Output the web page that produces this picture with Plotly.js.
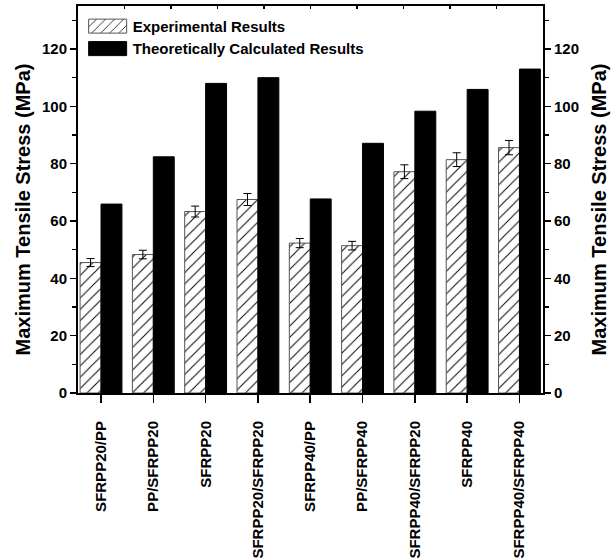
<!DOCTYPE html>
<html>
<head>
<meta charset="utf-8">
<script src="https://cdn.plot.ly/plotly-3.0.1.min.js"></script>
<style>html,body{margin:0;padding:0;background:#fff;}#chart{width:614px;height:560px;}</style>
</head>
<body>
<div id="chart"></div>
<script>
const categories = ["SFRPP20/PP", "PP/SFRPP20", "SFRPP20", "SFRPP20/SFRPP20", "SFRPP40/PP", "PP/SFRPP40", "SFRPP40/SFRPP20", "SFRPP40", "SFRPP40/SFRPP40"];
const experimental = [45.5, 48.3, 63.3, 67.5, 52.3, 51.4, 77.2, 81.4, 85.6];
const experimentalErr = [1.4, 1.5, 1.9, 2.1, 1.6, 1.5, 2.4, 2.4, 2.5];
const theoretical = [65.9, 82.4, 108.0, 110.0, 67.7, 87.1, 98.3, 105.9, 113.0];
const seriesNames = ["Experimental Results", "Theoretically Calculated Results"];
const yTitle = "Maximum Tensile Stress (MPa)";

const font = "Liberation Sans, Arial, sans-serif";

const traces = [
  {
    type: "bar", x: categories, y: experimental, name: seriesNames[0],
    marker: {color: "#ffffff", line: {color: "#555555", width: 1},
      pattern: {shape: "/", fgcolor: "#000000", bgcolor: "#ffffff", size: 8, solidity: 0.12}},
    error_y: {type: "data", array: experimentalErr, visible: true, color: "#000000", thickness: 1, width: 4}
  },
  {
    type: "bar", x: categories, y: theoretical, name: seriesNames[1],
    marker: {color: "#000000", line: {color: "#000000", width: 1}}
  },
  {
    // empty helper trace so the mirrored top/right axes are drawn
    type: "scatter", x: [], y: [], xaxis: "x2", yaxis: "y2",
    showlegend: false, hoverinfo: "skip"
  }
];

const yCommon = {
  range: [0, 135], dtick: 20, tick0: 0, showgrid: false, zeroline: false,
  showline: true, linecolor: "#000", linewidth: 2,
  ticks: "outside", ticklen: 6, tickwidth: 1.5, tickcolor: "#000",
  minor: {dtick: 10, ticks: "outside", ticklen: 4, tickwidth: 1.5, tickcolor: "#000"},
  tickfont: {family: font, size: 15, color: "#000", weight: "bold"},
  fixedrange: true
};

const layout = {
  width: 614, height: 560,
  margin: {l: 78, r: 71, t: 6, b: 167},
  paper_bgcolor: "#fff", plot_bgcolor: "#fff",
  barmode: "group", bargap: 0.2, bargroupgap: 0,
  showlegend: true,
  legend: {x: 0.01, y: 0.99, xanchor: "left", yanchor: "top", bgcolor: "rgba(0,0,0,0)",
    font: {family: font, size: 15, color: "#000", weight: "bold"}, itemwidth: 40},
  xaxis: {
    type: "category", range: [-0.44, 8.45], showgrid: false, zeroline: false,
    showline: true, linecolor: "#000", linewidth: 2,
    ticks: "outside", ticklen: 8, tickwidth: 1.5, tickcolor: "#000",
    tickangle: -90, tickfont: {family: font, size: 15, color: "#000", weight: "bold"},
    ticklabelstandoff: 12, fixedrange: true
  },
  xaxis2: {
    overlaying: "x", side: "top", anchor: "y2", range: [0, 10], dtick: 1, tick0: 0,
    showgrid: false, zeroline: false, showline: true, linecolor: "#000", linewidth: 2,
    ticks: "inside", ticklen: 3, tickwidth: 1.5, tickcolor: "#000", showticklabels: false, fixedrange: true
  },
  yaxis: Object.assign({}, yCommon, {
    title: {text: yTitle, font: {family: font, size: 20, color: "#000", weight: "bold"}, standoff: 6}
  }),
  yaxis2: Object.assign({}, yCommon, {
    overlaying: "y", side: "right", anchor: "x2",
    title: {text: yTitle, font: {family: font, size: 20, color: "#000", weight: "bold"}, standoff: 14}
  })
};

Plotly.newPlot("chart", traces, layout, {displayModeBar: false, staticPlot: true}).then(function (gd) {
  // widen the legend swatches to the long rectangles of the original figure
  gd.querySelectorAll(".legend .legendpoints path").forEach(function (p) {
    p.setAttribute("d", "M-19,7H19V-7H-19Z");
  });
  // the original axis titles sit slightly below the plot's vertical centre
  gd.querySelectorAll(".g-ytitle, .g-y2title").forEach(function (g) {
    g.setAttribute("transform", "translate(0,10)");
  });
});
</script>
</body>
</html>
